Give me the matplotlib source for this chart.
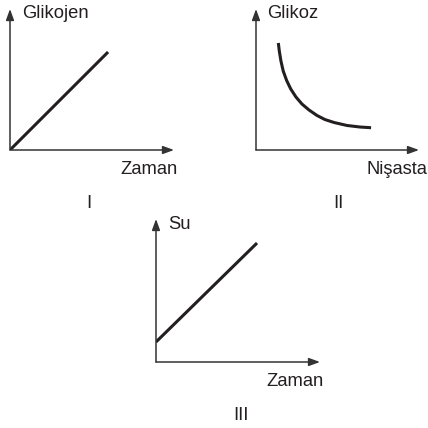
import numpy as np
import matplotlib.pyplot as plt

plt.rcParams["font.family"] = ["Liberation Sans", "DejaVu Sans"]
plt.rcParams["font.size"] = 13.2

W = H = 428

# ---- data (arbitrary units, axes span 0..10)
glikojen_t = [0, 5.98]
glikojen = [0, 6.95]

nisasta = [1.37, 1.43, 1.53, 1.67, 1.88, 2.13, 2.45, 2.82, 3.25, 3.74,
           4.23, 4.79, 5.58, 6.38, 7.06]
glikoz = [7.59, 7.02, 6.31, 5.60, 4.93, 4.33, 3.76, 3.26, 2.84, 2.45,
          2.16, 1.95, 1.74, 1.63, 1.58]

su_t = [0, 6.16]
su = [1.40, 8.32]

panels = ["I", "II", "III"]
ylabels = ["Glikojen", "Glikoz", "Su"]
xlabels = ["Zaman", "Nişasta", "Zaman"]

INK = "#231f20"
AXC = "#333333"


def px_axes(fig, l, t, r, b):
    ax = fig.add_axes([l / W, 1 - b / H, (r - l) / W, (b - t) / H])
    ax.set_xlim(0, 10)
    ax.set_ylim(0, 10)
    ax.axis("off")
    ap = dict(arrowstyle="-|>,head_length=0.55,head_width=0.2", color=AXC,
              lw=1.1, shrinkA=0, shrinkB=0, mutation_scale=12)
    ax.annotate("", xy=(1, 0), xytext=(0, 0), xycoords="axes fraction",
                arrowprops=ap)
    ax.annotate("", xy=(0, 1), xytext=(0, 0), xycoords="axes fraction",
                arrowprops=ap)
    return ax


def ftext(fig, x, y, s, ha="left"):
    fig.text(x / W, 1 - y / H, s, ha=ha, va="baseline", color=INK)


fig = plt.figure(figsize=(W / 100, H / 100), dpi=100)

line_kw = dict(color=INK, lw=2.2, solid_capstyle="butt", solid_joinstyle="round")

ax1 = px_axes(fig, 10, 9, 174, 150)
ax1.plot(glikojen_t, glikojen, **line_kw)

ax2 = px_axes(fig, 256, 9, 419, 150)
ax2.plot(nisasta, glikoz, **line_kw)

ax3 = px_axes(fig, 156, 219, 320, 362)
ax3.plot(su_t, su, **line_kw)

ftext(fig, 22, 17.5, ylabels[0])
ftext(fig, 120, 174.5, xlabels[0])
ftext(fig, 89, 207.5, panels[0], ha="center")

ftext(fig, 267, 17.5, ylabels[1])
ftext(fig, 366, 174.5, xlabels[1])
ftext(fig, 338, 207.5, panels[1], ha="center")

ftext(fig, 168, 229, ylabels[2])
ftext(fig, 266, 386, xlabels[2])
ftext(fig, 241, 420.5, panels[2], ha="center")

fig.savefig("out.png", dpi=100)
